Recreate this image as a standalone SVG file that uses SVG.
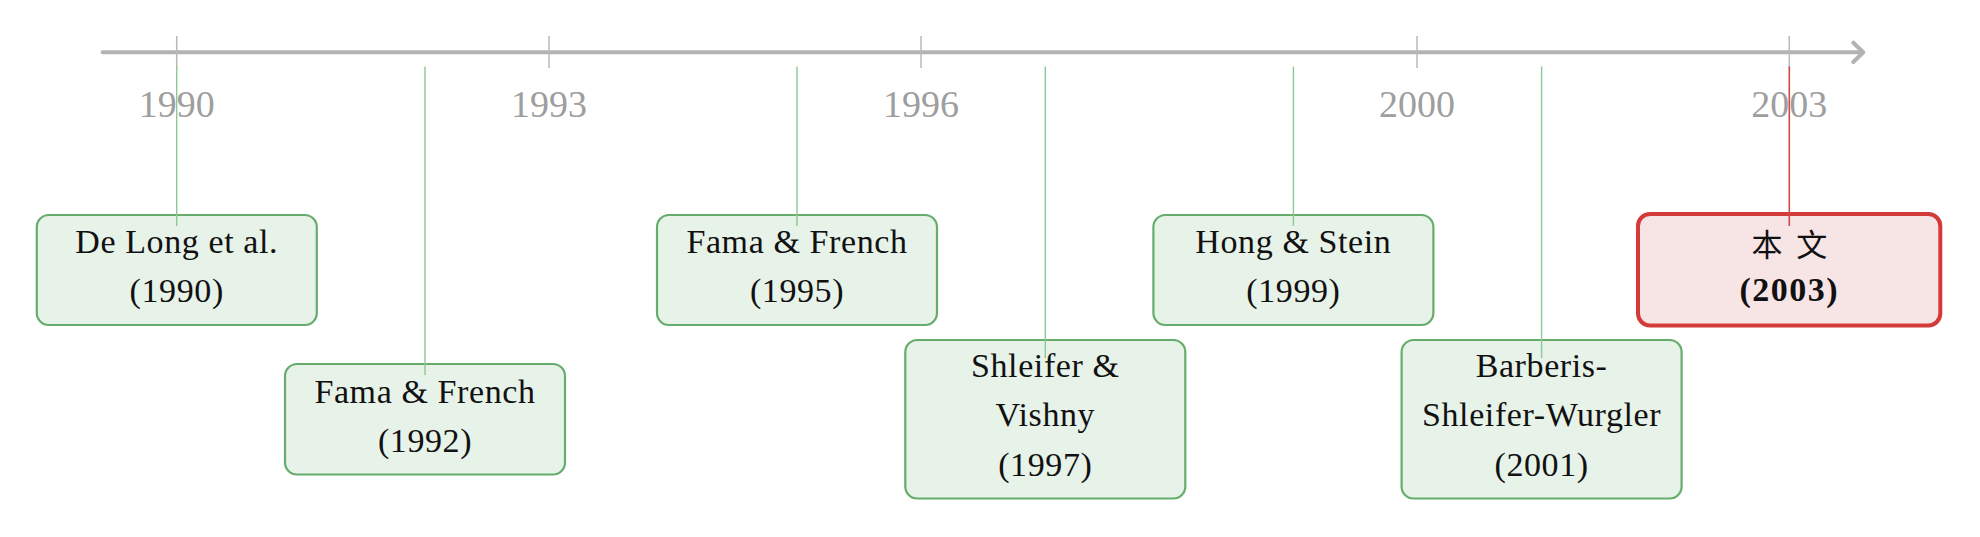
<svg xmlns="http://www.w3.org/2000/svg" width="1980" height="537" viewBox="0 0 1980 537">
<style>
.axis{stroke:#b3b3b3;stroke-width:4;fill:none;stroke-linecap:round;stroke-linejoin:round}
.tick{stroke:#b8b8b8;stroke-width:1.5}
.yr{font-family:"Liberation Serif",serif;font-size:38px;fill:#9e9e9e;text-anchor:middle}
.box{fill:#e7f2e8;stroke:#66ac6c;stroke-width:2.2}
.me{fill:#f7e4e5;stroke:#d33a3a;stroke-width:4}
.t{font-family:"Liberation Serif",serif;font-size:34px;fill:#111;text-anchor:middle;letter-spacing:0.6px}
.tb{font-family:"Liberation Serif",serif;font-size:34px;font-weight:bold;fill:#111;text-anchor:middle;letter-spacing:1.5px}
.cjk{font-family:"Liberation Serif","Noto Sans CJK SC",sans-serif;font-size:31px;fill:#111;text-anchor:middle;word-spacing:6px}
.lk{stroke:#8cc898;stroke-width:1.4}
.lr{stroke:#d04848;stroke-width:1.6}
</style>
<g id="axis">
<line class="axis" x1="102.7" y1="52.3" x2="1862" y2="52.3"/>
<polyline class="axis" points="1853.3,42.7 1863.3,52.3 1853.3,62"/>
<line class="tick" x1="176.7" y1="36" x2="176.7" y2="68"/>
<line class="tick" x1="549" y1="36" x2="549" y2="68"/>
<line class="tick" x1="921" y1="36" x2="921" y2="68"/>
<line class="tick" x1="1417" y1="36" x2="1417" y2="68"/>
<line class="tick" x1="1789.3" y1="36" x2="1789.3" y2="68"/>
<text class="yr" x="176.7" y="117">1990</text>
<text class="yr" x="549" y="117">1993</text>
<text class="yr" x="921" y="117">1996</text>
<text class="yr" x="1417" y="117">2000</text>
<text class="yr" x="1789.3" y="117">2003</text>
</g>
<g id="n1990">
<rect class="box" x="36.8" y="215" width="280" height="110" rx="12"/>
<text class="t" x="176.7" y="253">De Long et al.</text>
<text class="t" x="176.7" y="302">(1990)</text>
</g>
<g id="n1992">
<rect class="box" x="285" y="364" width="280" height="110.5" rx="12"/>
<text class="t" x="425" y="402.5">Fama &amp; French</text>
<text class="t" x="425" y="451.5">(1992)</text>
</g>
<g id="n1995">
<rect class="box" x="657" y="215" width="280" height="110" rx="12"/>
<text class="t" x="797" y="253">Fama &amp; French</text>
<text class="t" x="797" y="302">(1995)</text>
</g>
<g id="n1997">
<rect class="box" x="905.3" y="340" width="280" height="158.5" rx="12"/>
<text class="t" x="1045.3" y="377">Shleifer &amp;</text>
<text class="t" x="1045.3" y="426.3">Vishny</text>
<text class="t" x="1045.3" y="475.5">(1997)</text>
</g>
<g id="n1999">
<rect class="box" x="1153.4" y="215" width="280" height="110" rx="12"/>
<text class="t" x="1293.4" y="253">Hong &amp; Stein</text>
<text class="t" x="1293.4" y="302">(1999)</text>
</g>
<g id="n2001">
<rect class="box" x="1401.6" y="340" width="280" height="158.5" rx="12"/>
<text class="t" x="1541.6" y="377">Barberis-</text>
<text class="t" x="1541.6" y="426.3">Shleifer-Wurgler</text>
<text class="t" x="1541.6" y="475.5">(2001)</text>
</g>
<g id="n2003">
<rect class="me" x="1638" y="214" width="302.3" height="111.5" rx="12"/>
<text class="cjk" x="1789.3" y="256">本 文</text>
<text class="tb" x="1789.3" y="300.5">(2003)</text>
</g>
<g id="connectors">
<line class="lk" x1="176.7" y1="66.5" x2="176.7" y2="226"/>
<line class="lk" x1="425" y1="66.5" x2="425" y2="375"/>
<line class="lk" x1="797" y1="66.5" x2="797" y2="226"/>
<line class="lk" x1="1045.3" y1="66.5" x2="1045.3" y2="358"/>
<line class="lk" x1="1293.4" y1="66.5" x2="1293.4" y2="226"/>
<line class="lk" x1="1541.6" y1="66.5" x2="1541.6" y2="358"/>
<line class="lr" x1="1789.3" y1="66.5" x2="1789.3" y2="226"/>
</g>
</svg>
